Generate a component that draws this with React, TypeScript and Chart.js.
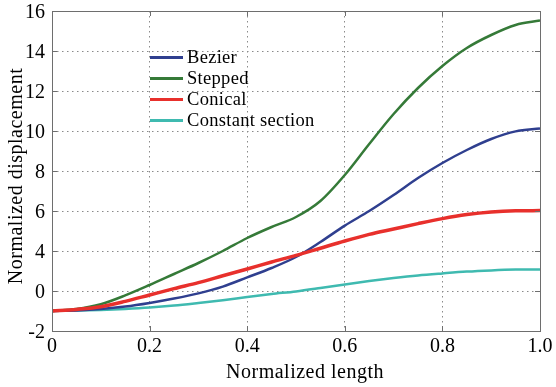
import React, { useEffect, useRef } from "react";
import { Chart, registerables } from "chart.js";

Chart.register(...registerables);

// Normalized length (x)
const xs = [0, 0.05, 0.1, 0.15, 0.2, 0.25, 0.3, 0.35, 0.4, 0.45, 0.5, 0.55, 0.6, 0.65, 0.7, 0.75, 0.8, 0.85, 0.9, 0.95, 1.0];

// Values in axis-position units (gridline scale, -2..14)
const bezier = [-1, -0.97, -0.9, -0.78, -0.6, -0.38, -0.12, 0.22, 0.68, 1.15, 1.7, 2.45, 3.27, 4.0, 4.8, 5.65, 6.4, 7.05, 7.6, 7.98, 8.13];
const stepped = [-1, -0.9, -0.66, -0.22, 0.3, 0.85, 1.4, 2.0, 2.65, 3.2, 3.7, 4.5, 5.8, 7.35, 8.85, 10.15, 11.25, 12.15, 12.8, 13.3, 13.52];
const conical = [-1, -0.92, -0.79, -0.52, -0.2, 0.12, 0.42, 0.76, 1.1, 1.45, 1.78, 2.14, 2.5, 2.83, 3.1, 3.37, 3.62, 3.82, 3.95, 4.01, 4.02];
const constantSection = [-1, -0.98, -0.95, -0.9, -0.83, -0.73, -0.6, -0.46, -0.3, -0.15, -0.02, 0.15, 0.33, 0.5, 0.65, 0.78, 0.88, 0.97, 1.03, 1.07, 1.08];

const seriesNames = ["Bezier", "Stepped", "Conical", "Constant section"];
const seriesColors = ["#2f3f8f", "#357a38", "#e8302c", "#3fbab0"];
const seriesWidths = [2.5, 2.5, 3.5, 2.5];
const seriesDrawOrder = [2, 1, 0, 3];

const xTickLabels = ["0", "0.2", "0.4", "0.6", "0.8", "1.0"];
const yTickLabels = ["-2", "0", "4", "6", "8", "10", "12", "14", "16"];
const xTitle = "Normalized length";
const yTitle = "Normalized displacement";

const FONT = "'Liberation Serif', 'Times New Roman', serif";

const frameAndLegend = {
  id: "frameAndLegend",
  afterDraw(chart: any) {
    const { ctx, chartArea } = chart;
    const { left, right, top, bottom } = chartArea;
    ctx.save();
    // frame
    ctx.strokeStyle = "#6e6e6e";
    ctx.lineWidth = 1;
    ctx.strokeRect(Math.round(left) + 0.5, Math.round(top) + 0.5, Math.round(right - left), Math.round(bottom - top));
    // inward ticks
    const xScale = chart.scales.x;
    const yScale = chart.scales.y;
    ctx.beginPath();
    xScale.ticks.forEach((t: any) => {
      const px = Math.round(xScale.getPixelForValue(t.value)) + 0.5;
      ctx.moveTo(px, bottom);
      ctx.lineTo(px, bottom - 5);
      ctx.moveTo(px, top);
      ctx.lineTo(px, top + 5);
    });
    yScale.ticks.forEach((t: any) => {
      const py = Math.round(yScale.getPixelForValue(t.value)) + 0.5;
      ctx.moveTo(left, py);
      ctx.lineTo(left + 5, py);
      ctx.moveTo(right, py);
      ctx.lineTo(right - 5, py);
    });
    ctx.stroke();
    // axis titles
    (ctx as any).letterSpacing = "0.5px";
    ctx.fillStyle = "#000";
    ctx.font = `20px ${FONT}`;
    ctx.textAlign = "center";
    ctx.textBaseline = "middle";
    ctx.fillText(xTitle, 305, 373);
    ctx.save();
    ctx.translate(17, 176);
    ctx.rotate(-Math.PI / 2);
    ctx.fillText(yTitle, 0, 0);
    ctx.restore();
    // legend
    (ctx as any).letterSpacing = "0.3px";
    ctx.font = `18.5px ${FONT}`;
    ctx.textBaseline = "middle";
    ctx.textAlign = "left";
    seriesNames.forEach((name, i) => {
      const y = 57.5 + i * 21;
      ctx.strokeStyle = seriesColors[i];
      ctx.lineWidth = 3;
      ctx.beginPath();
      ctx.moveTo(150, y);
      ctx.lineTo(183, y);
      ctx.stroke();
      ctx.fillStyle = "#000";
      ctx.fillText(name, 187, y + 1);
    });
    ctx.restore();
  },
};

export default function App() {
  const ref = useRef<HTMLCanvasElement | null>(null);
  useEffect(() => {
    if (!ref.current) return;
    const seriesValues = [bezier, stepped, conical, constantSection];
    const chart = new Chart(ref.current, {
      type: "line",
      data: {
        datasets: seriesNames.map((name, i) => ({
          label: name,
          data: xs.map((x, j) => ({ x, y: seriesValues[i][j] })),
          borderColor: seriesColors[i],
          backgroundColor: seriesColors[i],
          borderWidth: seriesWidths[i],
          pointRadius: 0,
          cubicInterpolationMode: "monotone" as const,
          order: seriesDrawOrder[i],
          fill: false,
        })),
      },
      options: {
        animation: false,
        responsive: false,
        layout: { padding: { top: 11, right: 16, left: 0, bottom: 0 } },
        plugins: { legend: { display: false }, tooltip: { enabled: false } },
        scales: {
          x: {
            type: "linear",
            min: 0,
            max: 1,
            afterFit: (s: any) => {
              s.height = 56;
              s.paddingLeft = 0;
              s.paddingRight = 0;
              s.paddingTop = 0;
              s.paddingBottom = 0;
            },
            ticks: {
              stepSize: 0.2,
              padding: 4,
              maxRotation: 0,
              color: "#000",
              font: { family: FONT, size: 20 },
              callback: (_v: any, i: number) => xTickLabels[i],
            },
            grid: { color: "#8a8a8a", drawTicks: false, lineWidth: 1 },
            border: { display: false, dash: [1.5, 3.5] },
          },
          y: {
            type: "linear",
            min: -2,
            max: 14,
            afterFit: (s: any) => {
              s.width = 52;
              s.paddingLeft = 0;
              s.paddingRight = 0;
              s.paddingTop = 0;
              s.paddingBottom = 0;
            },
            ticks: {
              stepSize: 2,
              padding: 7,
              labelOffset: 2,
              color: "#000",
              font: { family: FONT, size: 20 },
              callback: (_v: any, i: number) => yTickLabels[i],
            },
            grid: { color: "#8a8a8a", drawTicks: false, lineWidth: 1 },
            border: { display: false, dash: [1.5, 3.5] },
          },
        },
      },
      plugins: [frameAndLegend],
    });
    return () => chart.destroy();
  }, []);
  return (
    <div style={{ position: "absolute", left: 0, top: 0, width: 556, height: 387, background: "#fff" }}>
      <canvas ref={ref} width={556} height={387} />
    </div>
  );
}
